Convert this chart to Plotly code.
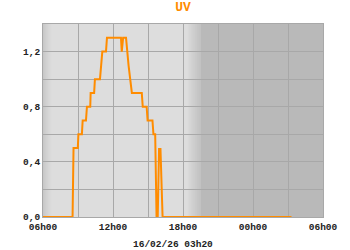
import plotly.graph_objects as go
import datetime as dt

# ---- data ----
times = [
    "2026-02-15 06:00", "2026-02-15 08:32", "2026-02-15 08:37", "2026-02-15 08:59",
    "2026-02-15 09:02", "2026-02-15 09:20", "2026-02-15 09:24", "2026-02-15 09:41",
    "2026-02-15 09:46", "2026-02-15 10:03", "2026-02-15 10:05", "2026-02-15 10:23",
    "2026-02-15 10:27", "2026-02-15 10:53", "2026-02-15 11:05", "2026-02-15 11:24",
    "2026-02-15 11:29", "2026-02-15 12:41", "2026-02-15 12:45", "2026-02-15 12:52",
    "2026-02-15 13:07", "2026-02-15 13:12", "2026-02-15 13:20", "2026-02-15 13:37",
    "2026-02-15 14:28", "2026-02-15 14:33", "2026-02-15 14:53", "2026-02-15 14:58",
    "2026-02-15 15:23", "2026-02-15 15:28", "2026-02-15 15:37", "2026-02-15 15:44",
    "2026-02-15 15:50", "2026-02-15 15:57", "2026-02-15 16:00", "2026-02-15 16:04",
    "2026-02-15 16:15", "2026-02-16 03:18",
]
uv = [
    0.0, 0.0, 0.5, 0.5,
    0.6, 0.6, 0.7, 0.7,
    0.8, 0.8, 0.9, 0.9,
    1.0, 1.0, 1.2, 1.2,
    1.3, 1.3, 1.2, 1.3,
    1.3, 1.2, 1.1, 0.9,
    0.9, 0.8, 0.8, 0.7,
    0.7, 0.6, 0.6, 0.0,
    0.0, 0.5, 0.4, 0.5,
    0.0, 0.0,
]
y_ticks = [0.0, 0.4, 0.8, 1.2]
title_text = "UV"
stamp_text = "16/02/26 03h20"

x_start = "2026-02-15 06:00"
x_end = "2026-02-16 06:00"

FONT = "Liberation Mono"
ORANGE = "#ff8c00"
DAY = "#dddddd"
NIGHT = "#b9b9b9"
GRID = "#a8a8a8"

fig = go.Figure()
fig.add_trace(go.Scatter(x=times, y=uv, mode="lines",
                         line=dict(color=ORANGE, width=2), hoverinfo="skip"))

# ---- background shading (gradients made from thin rectangles) ----
def ts(h):
    base = dt.datetime(2026, 2, 15, 0, 0)
    return (base + dt.timedelta(hours=h)).strftime("%Y-%m-%d %H:%M:%S")

def mix(c1, c2, f):
    a = [int(c1[i:i+2], 16) for i in (1, 3, 5)]
    b = [int(c2[i:i+2], 16) for i in (1, 3, 5)]
    return "rgb(%d,%d,%d)" % tuple(round(a[k] + (b[k] - a[k]) * f) for k in range(3))

shapes = []
n = 10
for i in range(n):
    h0 = 6.0 + 0.8 * i / n
    h1 = 6.0 + 0.8 * (i + 1) / n
    shapes.append(dict(type="rect", xref="x", yref="paper", x0=ts(h0), x1=ts(h1),
                       y0=0, y1=1, fillcolor=mix("#c6c6c6", DAY, (i + 0.5) / n),
                       line=dict(width=0), layer="below"))
n = 14
g0, g1 = 18.35, 19.5
for i in range(n):
    h0 = g0 + (g1 - g0) * i / n
    h1 = g0 + (g1 - g0) * (i + 1) / n
    shapes.append(dict(type="rect", xref="x", yref="paper", x0=ts(h0), x1=ts(h1),
                       y0=0, y1=1, fillcolor=mix(DAY, NIGHT, (i + 0.5) / n),
                       line=dict(width=0), layer="below"))
shapes.append(dict(type="rect", xref="x", yref="paper", x0=ts(g1), x1=x_end,
                   y0=0, y1=1, fillcolor=NIGHT, line=dict(width=0), layer="below"))

fig.update_layout(
    width=350, height=250,
    margin=dict(l=43, r=23, t=24, b=33),
    paper_bgcolor="white", plot_bgcolor=DAY,
    separators=", ",
    showlegend=False,
    shapes=shapes,
    font=dict(family=FONT, size=9.5, color="#222222"),
    title=dict(text="<b>%s</b>" % title_text, x=0.5, xref="paper", xanchor="center",
               y=1, yref="container", yanchor="top", pad=dict(t=2),
               font=dict(family=FONT, size=13, color=ORANGE)),
    annotations=[dict(text="<b>%s</b>" % stamp_text, xref="paper", yref="paper",
                      x=(175 - 43) / 284.5, y=0, xanchor="center", yanchor="top",
                      yshift=-20, showarrow=False,
                      font=dict(family=FONT, size=9.5, color="#222222"))],
)

fig.update_xaxes(
    type="date", range=[x_start, x_end],
    tick0=x_start, dtick=6 * 3600000, tickformat="<b>%Hh%M</b>",
    showgrid=True, gridcolor=GRID, gridwidth=1,
    minor=dict(dtick=3 * 3600000, tick0=x_start, showgrid=True, gridcolor=GRID, gridwidth=1),
    showline=True, linecolor=GRID, linewidth=1, mirror=True,
    ticks="", zeroline=False, ticklabelstandoff=1,
)
fig.update_yaxes(
    range=[0, 1.4], tickvals=y_ticks,
    ticktext=["<b>%s</b>" % ("%.1f" % v).replace(".", ",") for v in y_ticks],
    showgrid=True, gridcolor=GRID, gridwidth=1,
    minor=dict(dtick=0.2, tick0=0, showgrid=True, gridcolor=GRID, gridwidth=1),
    showline=True, linecolor=GRID, linewidth=1, mirror=True,
    ticks="", zeroline=False,
)

fig.write_html("out.html")
